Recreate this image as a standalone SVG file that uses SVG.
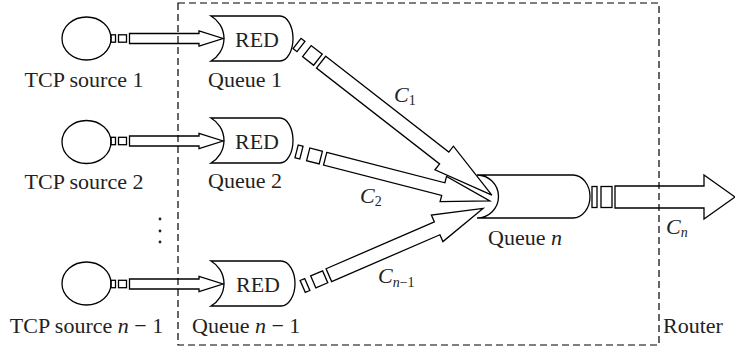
<svg xmlns="http://www.w3.org/2000/svg" width="735" height="355" viewBox="0 0 735 355">
<style>
.s{fill:none;stroke:#000;stroke-width:1.3;stroke-linejoin:miter}
.w{fill:#fff;stroke:#000;stroke-width:1.3}
.t{font-family:"Liberation Serif",serif;font-size:22px;fill:#222}
.i{font-style:italic}
.sub{font-size:14px}
.box{fill:none;stroke:#000;stroke-width:1.2;stroke-dasharray:7 4}
</style>
<rect width="735" height="355" fill="#fff"/>

<g id="connectors">
  <g id="arr-src1" transform="translate(111,38.5)">
    <rect class="s" x="0" y="-3.7" width="4.5" height="7.4"/>
    <rect class="s" x="7.5" y="-3.7" width="8" height="7.4"/>
    <path class="s" d="M18.5,-5 H88 V-7.5 L112,0 L88,7.5 V5 H18.5 Z"/>
  </g>
  <g id="arr-src2" transform="translate(111,141)">
    <rect class="s" x="0" y="-3.7" width="4.5" height="7.4"/>
    <rect class="s" x="7.5" y="-3.7" width="8" height="7.4"/>
    <path class="s" d="M18.5,-5 H88 V-7.5 L112,0 L88,7.5 V5 H18.5 Z"/>
  </g>
  <g id="arr-srcn1" transform="translate(111,284)">
    <rect class="s" x="0" y="-3.7" width="4.5" height="7.4"/>
    <rect class="s" x="7.5" y="-3.7" width="8" height="7.4"/>
    <path class="s" d="M18.5,-5 H88 V-7.5 L112,0 L88,7.5 V5 H18.5 Z"/>
  </g>
  <g id="arr-c1" transform="translate(299,45) rotate(37.9)">
    <rect class="s" x="-2.5" y="-6.5" width="5" height="13"/>
    <rect class="s" x="10" y="-7" width="14" height="14"/>
    <path class="s" d="M28,-7.5 H184 V-15 L244.4,0 L184,15 V7.5 H28 Z"/>
  </g>
  <g id="arr-c2" transform="translate(299,152) rotate(14.4)">
    <rect class="s" x="-2.5" y="-6.5" width="5" height="13"/>
    <rect class="s" x="9.5" y="-6.5" width="13" height="13"/>
    <path class="s" d="M27,-6.5 H149 V-13 L197,0 L149,13 V6.5 H27 Z"/>
  </g>
  <g id="arr-cn1" transform="translate(305,285.5) rotate(-23.4)">
    <rect class="s" x="-2.5" y="-6.5" width="5" height="13"/>
    <rect class="s" x="9" y="-6.5" width="13" height="13"/>
    <path class="s" d="M26,-7 H144 V-14.5 L194,0 L144,14.5 V7 H26 Z"/>
  </g>
  <g id="arr-cn" transform="translate(592,197)">
    <rect class="s" x="0" y="-10.5" width="5" height="21"/>
    <rect class="s" x="9" y="-10.5" width="11" height="21"/>
    <path class="s" d="M23,-11 H112 V-22 L143,0 L112,22 V11 H23 Z"/>
  </g>
</g>

<g id="src1">
  <ellipse class="s" cx="86.5" cy="38.5" rx="24.5" ry="21.5"/>
  <text class="t" x="84" y="87" text-anchor="middle">TCP source 1</text>
</g>
<g id="src2">
  <ellipse class="s" cx="86.5" cy="142" rx="24.5" ry="21.5"/>
  <text class="t" x="84" y="189" text-anchor="middle">TCP source 2</text>
</g>
<g id="dots">
  <circle cx="160" cy="219" r="1.4" fill="#222"/>
  <circle cx="160" cy="231" r="1.4" fill="#222"/>
  <circle cx="160" cy="242" r="1.4" fill="#222"/>
</g>
<g id="srcn1">
  <ellipse class="s" cx="86.5" cy="283.5" rx="24.5" ry="21.5"/>
  <text class="t" x="86.5" y="333" text-anchor="middle">TCP source <tspan class="i">n</tspan> − 1</text>
</g>

<g id="queue1">
  <path class="s" d="M211,16 H280 A13,22.5 0 0 1 280,61 H211 A26,26 0 0 0 211,16 Z"/>
  <text class="t" x="257" y="47" text-anchor="middle">RED</text>
  <text class="t" x="208" y="87">Queue 1</text>
</g>
<g id="queue2">
  <path class="s" d="M211,118 H280 A13,22.5 0 0 1 280,163 H211 A26,26 0 0 0 211,118 Z"/>
  <text class="t" x="257" y="149" text-anchor="middle">RED</text>
  <text class="t" x="208" y="188">Queue 2</text>
</g>
<g id="queuen1">
  <path class="s" d="M211,261 H281 A14,22.5 0 0 1 281,306 H211 A26,26 0 0 0 211,261 Z"/>
  <text class="t" x="258" y="292" text-anchor="middle">RED</text>
  <text class="t" x="192" y="333">Queue <tspan class="i">n</tspan> − 1</text>
</g>
<g id="queuen">
  <path class="s" d="M477,175 H573 A17,21.5 0 0 1 573,218 H477 A21.5,21.5 0 0 0 477,175 Z"/>
  <text class="t" x="488" y="245">Queue <tspan class="i">n</tspan></text>
</g>

<g id="labels">
  <text class="t" x="394" y="102"><tspan class="i">C</tspan><tspan class="sub" dy="3">1</tspan></text>
  <text class="t" x="360" y="203"><tspan class="i">C</tspan><tspan class="sub" dy="3">2</tspan></text>
  <text class="t" x="378" y="283"><tspan class="i">C</tspan><tspan class="sub" dy="4"><tspan class="i">n</tspan>−1</tspan></text>
  <text class="t" x="666" y="234"><tspan class="i">C</tspan><tspan class="sub i" dy="3">n</tspan></text>
</g>

<g id="router">
  <rect class="box" x="178" y="3" width="481" height="342"/>
  <text class="t" x="663" y="333">Router</text>
</g>
</svg>
